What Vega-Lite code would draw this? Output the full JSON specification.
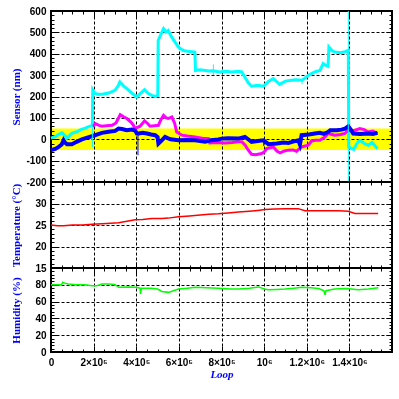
{
  "$schema": "https://vega.github.io/schema/vega-lite/v6.json",
  "background": "white",
  "padding": {"left": 8, "top": 5, "right": 5, "bottom": 5},
  "spacing": 0,
  "bounds": "flush",
  "config": {
    "view": {"stroke": "black", "strokeWidth": 2},
    "axis": {
      "domain": false,
      "tickColor": "black",
      "tickWidth": 1,
      "labelColor": "black",
      "labelFont": "Liberation Sans",
      "labelFontSize": 10,
      "labelFontWeight": "bold",
      "labelFlush": false,
      "labelOverlap": false,
      "labelBound": false,
      "labelPadding": 11,
      "gridColor": "black",
      "gridDash": [3, 2],
      "gridWidth": 1,
      "titleColor": "#0000ff",
      "titleFont": "Liberation Serif",
      "titleFontSize": 11,
      "titleFontWeight": "bold"
    }
  },
  "datasets": {
    "cyan": [
      {"loop": 0, "value": 5}, {"loop": 20000, "value": 12}, {"loop": 40000, "value": 25}, {"loop": 52000, "value": 30},
      {"loop": 65000, "value": 18}, {"loop": 75000, "value": 5}, {"loop": 98000, "value": 28}, {"loop": 120000, "value": 35},
      {"loop": 140000, "value": 45}, {"loop": 160000, "value": 52}, {"loop": 180000, "value": 60}, {"loop": 194000, "value": 65},
      {"loop": 196000, "value": 230}, {"loop": 205000, "value": 215}, {"loop": 223000, "value": 210},
      {"loop": 245000, "value": 212}, {"loop": 270000, "value": 216}, {"loop": 300000, "value": 229}, {"loop": 315000, "value": 250},
      {"loop": 323000, "value": 268}, {"loop": 340000, "value": 250}, {"loop": 356000, "value": 237}, {"loop": 380000, "value": 215},
      {"loop": 403000, "value": 198}, {"loop": 420000, "value": 215}, {"loop": 439000, "value": 232}, {"loop": 455000, "value": 215},
      {"loop": 473000, "value": 205}, {"loop": 490000, "value": 200}, {"loop": 501000, "value": 205}, {"loop": 503000, "value": 462},
      {"loop": 515000, "value": 490}, {"loop": 528000, "value": 517}, {"loop": 540000, "value": 501}, {"loop": 550000, "value": 509},
      {"loop": 565000, "value": 480}, {"loop": 598000, "value": 431}, {"loop": 620000, "value": 415}, {"loop": 650000, "value": 410},
      {"loop": 675000, "value": 408}, {"loop": 678000, "value": 322}, {"loop": 700000, "value": 325}, {"loop": 739000, "value": 319},
      {"loop": 762000, "value": 320}, {"loop": 790000, "value": 315},
      {"loop": 820000, "value": 318}, {"loop": 848000, "value": 315}, {"loop": 880000, "value": 318}, {"loop": 895000, "value": 315},
      {"loop": 909000, "value": 291}, {"loop": 925000, "value": 265}, {"loop": 941000, "value": 248}, {"loop": 970000, "value": 252},
      {"loop": 996000, "value": 248}, {"loop": 1020000, "value": 270}, {"loop": 1043000, "value": 284}, {"loop": 1060000, "value": 268},
      {"loop": 1073000, "value": 257}, {"loop": 1100000, "value": 272}, {"loop": 1129000, "value": 276}, {"loop": 1150000, "value": 278},
      {"loop": 1178000, "value": 276}, {"loop": 1190000, "value": 285}, {"loop": 1207000, "value": 299},
      {"loop": 1238000, "value": 315}, {"loop": 1262000, "value": 322}, {"loop": 1277000, "value": 354}, {"loop": 1290000, "value": 345},
      {"loop": 1300000, "value": 341}, {"loop": 1304000, "value": 431}, {"loop": 1318000, "value": 415}, {"loop": 1332000, "value": 408},
      {"loop": 1360000, "value": 405}, {"loop": 1380000, "value": 410}, {"loop": 1395000, "value": 416}, {"loop": 1397000, "value": -36},
      {"loop": 1420000, "value": -48}, {"loop": 1435000, "value": -20}, {"loop": 1449000, "value": -5}, {"loop": 1470000, "value": -20},
      {"loop": 1488000, "value": -28}, {"loop": 1507000, "value": -15}, {"loop": 1532000, "value": -44}
    ],
    "magenta": [
      {"loop": 196000, "value": 58}, {"loop": 208000, "value": 73}, {"loop": 225000, "value": 65}, {"loop": 239000, "value": 61},
      {"loop": 260000, "value": 63}, {"loop": 286000, "value": 65}, {"loop": 305000, "value": 76}, {"loop": 325000, "value": 115},
      {"loop": 340000, "value": 105}, {"loop": 356000, "value": 97}, {"loop": 375000, "value": 80}, {"loop": 387000, "value": 65},
      {"loop": 393000, "value": 50}, {"loop": 418000, "value": 61}, {"loop": 439000, "value": 86}, {"loop": 452000, "value": 75},
      {"loop": 465000, "value": 61}, {"loop": 485000, "value": 63}, {"loop": 504000, "value": 65}, {"loop": 515000, "value": 90},
      {"loop": 528000, "value": 112}, {"loop": 540000, "value": 100}, {"loop": 550000, "value": 97}, {"loop": 567000, "value": 104},
      {"loop": 580000, "value": 75}, {"loop": 590000, "value": 34}, {"loop": 614000, "value": 19}, {"loop": 640000, "value": 15},
      {"loop": 676000, "value": 11}, {"loop": 710000, "value": 5}, {"loop": 739000, "value": 3}, {"loop": 745000, "value": -17},
      {"loop": 780000, "value": -15}, {"loop": 817000, "value": -17}, {"loop": 850000, "value": -15}, {"loop": 879000, "value": -12},
      {"loop": 895000, "value": -12}, {"loop": 911000, "value": -28}, {"loop": 925000, "value": -50}, {"loop": 941000, "value": -70},
      {"loop": 960000, "value": -72}, {"loop": 988000, "value": -67}, {"loop": 1000000, "value": -60}, {"loop": 1012000, "value": -44},
      {"loop": 1043000, "value": -36}, {"loop": 1060000, "value": -55}, {"loop": 1075000, "value": -64}, {"loop": 1095000, "value": -55},
      {"loop": 1114000, "value": -51}, {"loop": 1135000, "value": -50}, {"loop": 1152000, "value": -56}, {"loop": 1176000, "value": -36},
      {"loop": 1207000, "value": -28}, {"loop": 1223000, "value": -8}, {"loop": 1240000, "value": -5}, {"loop": 1262000, "value": -5},
      {"loop": 1285000, "value": 10}, {"loop": 1300000, "value": 27}, {"loop": 1332000, "value": 19}, {"loop": 1360000, "value": 22},
      {"loop": 1379000, "value": 27}, {"loop": 1395000, "value": 42}, {"loop": 1420000, "value": 40}, {"loop": 1449000, "value": 50},
      {"loop": 1470000, "value": 45}, {"loop": 1488000, "value": 34}, {"loop": 1510000, "value": 38}, {"loop": 1532000, "value": 27}
    ],
    "blue": [
      {"loop": 0, "value": -51}, {"loop": 20000, "value": -45}, {"loop": 36000, "value": -36}, {"loop": 50000, "value": -25},
      {"loop": 59000, "value": -5}, {"loop": 65000, "value": -15}, {"loop": 75000, "value": -23}, {"loop": 98000, "value": -23},
      {"loop": 120000, "value": -12}, {"loop": 145000, "value": -1}, {"loop": 170000, "value": 8}, {"loop": 192000, "value": 14},
      {"loop": 215000, "value": 22}, {"loop": 239000, "value": 30}, {"loop": 270000, "value": 35}, {"loop": 301000, "value": 39},
      {"loop": 317000, "value": 50}, {"loop": 333000, "value": 48}, {"loop": 355000, "value": 42}, {"loop": 379000, "value": 45},
      {"loop": 395000, "value": 40}, {"loop": 403000, "value": 27}, {"loop": 412000, "value": 27},
      {"loop": 430000, "value": 30}, {"loop": 450000, "value": 27}, {"loop": 470000, "value": 22}, {"loop": 489000, "value": 19},
      {"loop": 500000, "value": 10}, {"loop": 504000, "value": -20}, {"loop": 520000, "value": -5}, {"loop": 535000, "value": 11},
      {"loop": 560000, "value": 0}, {"loop": 598000, "value": -5}, {"loop": 640000, "value": -3}, {"loop": 676000, "value": -5},
      {"loop": 700000, "value": -8}, {"loop": 723000, "value": -12}, {"loop": 750000, "value": -5}, {"loop": 785000, "value": -1},
      {"loop": 801000, "value": 3}, {"loop": 830000, "value": 5}, {"loop": 879000, "value": 3}, {"loop": 910000, "value": 11},
      {"loop": 925000, "value": 0}, {"loop": 941000, "value": -12}, {"loop": 970000, "value": -8}, {"loop": 996000, "value": -5},
      {"loop": 1000000, "value": -8}, {"loop": 1020000, "value": -23}, {"loop": 1060000, "value": -20},
      {"loop": 1090000, "value": -15}, {"loop": 1114000, "value": -17}, {"loop": 1140000, "value": -10}, {"loop": 1160000, "value": -5},
      {"loop": 1168000, "value": -25}, {"loop": 1176000, "value": 19}, {"loop": 1210000, "value": 22}, {"loop": 1238000, "value": 27},
      {"loop": 1262000, "value": 30}, {"loop": 1280000, "value": 25}, {"loop": 1300000, "value": 34}, {"loop": 1310000, "value": 42},
      {"loop": 1340000, "value": 42}, {"loop": 1363000, "value": 45}, {"loop": 1380000, "value": 50}, {"loop": 1395000, "value": 61},
      {"loop": 1410000, "value": 40}, {"loop": 1418000, "value": 27}, {"loop": 1450000, "value": 25}, {"loop": 1488000, "value": 27},
      {"loop": 1510000, "value": 25}, {"loop": 1532000, "value": 30}
    ],
    "spikes": [
      {"series": "cyan", "loop": 194000, "from": 65, "to": -37},
      {"series": "cyan", "loop": 762000, "from": 300, "to": 350},
      {"series": "cyan", "loop": 1178000, "from": 276, "to": 258},
      {"series": "blue", "loop": 408000, "from": 27, "to": -75},
      {"series": "blue", "loop": 998000, "from": -5, "to": -32}
    ],
    "band": [{"lo": -50, "hi": 50}],
    "marker": [{"loop": 1395000}],
    "temperature": [
      {"loop": 0, "temp": 25.0}, {"loop": 30000, "temp": 24.8}, {"loop": 60000, "temp": 24.8}, {"loop": 100000, "temp": 25.0},
      {"loop": 150000, "temp": 25.0}, {"loop": 192000, "temp": 25.2}, {"loop": 240000, "temp": 25.3}, {"loop": 280000, "temp": 25.4},
      {"loop": 317000, "temp": 25.5}, {"loop": 350000, "temp": 25.8}, {"loop": 395000, "temp": 26.2}, {"loop": 430000, "temp": 26.3},
      {"loop": 473000, "temp": 26.5}, {"loop": 520000, "temp": 26.5}, {"loop": 550000, "temp": 26.6}, {"loop": 598000, "temp": 26.9},
      {"loop": 650000, "temp": 27.1}, {"loop": 700000, "temp": 27.3}, {"loop": 740000, "temp": 27.5}, {"loop": 785000, "temp": 27.6},
      {"loop": 830000, "temp": 27.8}, {"loop": 880000, "temp": 28.0}, {"loop": 930000, "temp": 28.2}, {"loop": 970000, "temp": 28.4},
      {"loop": 1004000, "temp": 28.6}, {"loop": 1050000, "temp": 28.7}, {"loop": 1100000, "temp": 28.8}, {"loop": 1160000, "temp": 28.8},
      {"loop": 1191000, "temp": 28.3}, {"loop": 1250000, "temp": 28.3}, {"loop": 1300000, "temp": 28.3}, {"loop": 1350000, "temp": 28.3},
      {"loop": 1395000, "temp": 28.2}, {"loop": 1426000, "temp": 27.7}, {"loop": 1480000, "temp": 27.7}, {"loop": 1535000, "temp": 27.7}
    ],
    "humidity": [
      {"loop": 0, "hum": 80}, {"loop": 30000, "hum": 80}, {"loop": 50000, "hum": 80}, {"loop": 55000, "hum": 83},
      {"loop": 65000, "hum": 82}, {"loop": 80000, "hum": 81}, {"loop": 120000, "hum": 80}, {"loop": 160000, "hum": 80},
      {"loop": 192000, "hum": 79}, {"loop": 215000, "hum": 79}, {"loop": 239000, "hum": 81}, {"loop": 270000, "hum": 81},
      {"loop": 300000, "hum": 80.5}, {"loop": 317000, "hum": 77}, {"loop": 360000, "hum": 77.5}, {"loop": 400000, "hum": 77},
      {"loop": 418000, "hum": 76}, {"loop": 420000, "hum": 69}, {"loop": 424000, "hum": 76}, {"loop": 470000, "hum": 76},
      {"loop": 500000, "hum": 75}, {"loop": 520000, "hum": 72}, {"loop": 552000, "hum": 71}, {"loop": 575000, "hum": 73},
      {"loop": 598000, "hum": 75}, {"loop": 640000, "hum": 76}, {"loop": 676000, "hum": 77}, {"loop": 730000, "hum": 76.5},
      {"loop": 786000, "hum": 76}, {"loop": 840000, "hum": 75}, {"loop": 880000, "hum": 75}, {"loop": 930000, "hum": 76},
      {"loop": 974000, "hum": 77.5}, {"loop": 1000000, "hum": 75}, {"loop": 1020000, "hum": 74}, {"loop": 1060000, "hum": 74.5},
      {"loop": 1098000, "hum": 75}, {"loop": 1140000, "hum": 76}, {"loop": 1177000, "hum": 77}, {"loop": 1220000, "hum": 76.5},
      {"loop": 1255000, "hum": 75.5}, {"loop": 1280000, "hum": 73}, {"loop": 1286000, "hum": 68}, {"loop": 1290000, "hum": 73},
      {"loop": 1330000, "hum": 75}, {"loop": 1380000, "hum": 75.5}, {"loop": 1410000, "hum": 75}, {"loop": 1442000, "hum": 74},
      {"loop": 1490000, "hum": 75}, {"loop": 1536000, "hum": 76.5}
    ]
  },
  "vconcat": [
    {
      "width": 341,
      "height": 171,
      "resolve": {"axis": {"x": "independent", "y": "independent"}},
      "layer": [
        {
          "data": {"name": "band"},
          "mark": {"type": "rect", "color": "#ffff00", "blend": "multiply"},
          "encoding": {
            "y": {"field": "lo", "type": "quantitative",
              "scale": {"domain": [-200, 600], "nice": false, "zero": false},
              "axis": {
                "orient": "left",
                "values": [-200,-180,-160,-140,-120,-100,-80,-60,-40,-20,0,20,40,60,80,100,120,140,160,180,200,220,240,260,280,300,320,340,360,380,400,420,440,460,480,500,520,540,560,580,600],
                "tickSize": {"condition": {"test": "datum.value % 100 === 0", "value": -6}, "value": -3},
                "labelExpr": "datum.value % 100 === 0 ? '' + datum.value : ''",
                "grid": true,
                "gridOpacity": {"condition": {"test": "datum.value % 100 === 0", "value": 1}, "value": 0},
                "title": "Sensor (nm)",
                "titleX": -35,
                "titleBaseline": "middle"
              }
            },
            "y2": {"field": "hi"}
          }
        },
        {
          "data": {"name": "cyan"},
          "mark": {"type": "line", "color": "#00ffff", "strokeWidth": 3},
          "encoding": {
            "x": {"field": "loop", "type": "quantitative",
              "scale": {"domain": [0, 1600000], "nice": false, "zero": false},
              "axis": {
                "orient": "bottom",
                "values": [0,50000,100000,150000,200000,250000,300000,350000,400000,450000,500000,550000,600000,650000,700000,750000,800000,850000,900000,950000,1000000,1050000,1100000,1150000,1200000,1250000,1300000,1350000,1400000,1450000,1500000,1550000,1600000],
                "tickSize": {"condition": {"test": "datum.value % 200000 === 0", "value": -6}, "value": -3},
                "labels": false,
                "grid": true,
                "gridOpacity": {"condition": {"test": "datum.value % 200000 === 0", "value": 1}, "value": 0},
                "title": null
              }
            },
            "y": {"field": "value", "type": "quantitative",
              "scale": {"domain": [-200, 600], "nice": false, "zero": false},
              "axis": {
                "orient": "right",
                "values": [-200,-180,-160,-140,-120,-100,-80,-60,-40,-20,0,20,40,60,80,100,120,140,160,180,200,220,240,260,280,300,320,340,360,380,400,420,440,460,480,500,520,540,560,580,600],
                "tickSize": {"condition": {"test": "datum.value % 100 === 0", "value": -6}, "value": -3},
                "labels": false,
                "grid": false,
                "title": null
              }
            }
          }
        },
        {
          "data": {"name": "magenta"},
          "mark": {"type": "line", "color": "#ff00ff", "strokeWidth": 3},
          "encoding": {
            "x": {"field": "loop", "type": "quantitative", "axis": null},
            "y": {"field": "value", "type": "quantitative", "axis": null}
          }
        },
        {
          "data": {"name": "blue"},
          "mark": {"type": "line", "color": "#0000ff", "strokeWidth": 4},
          "encoding": {
            "x": {"field": "loop", "type": "quantitative", "axis": null},
            "y": {"field": "value", "type": "quantitative", "axis": null}
          }
        },
        {
          "data": {"name": "spikes"},
          "mark": {"type": "rule", "strokeWidth": 1},
          "encoding": {
            "x": {"field": "loop", "type": "quantitative", "axis": null},
            "y": {"field": "from", "type": "quantitative", "axis": null},
            "y2": {"field": "to"},
            "color": {"field": "series", "type": "nominal",
              "scale": {"domain": ["cyan", "blue"], "range": ["#00ffff", "#0000ff"]},
              "legend": null}
          }
        },
        {
          "data": {"name": "marker"},
          "mark": {"type": "rule", "color": "#00ffff", "strokeWidth": 1},
          "encoding": {
            "x": {"field": "loop", "type": "quantitative",
              "axis": {
                "orient": "top",
                "values": [0,50000,100000,150000,200000,250000,300000,350000,400000,450000,500000,550000,600000,650000,700000,750000,800000,850000,900000,950000,1000000,1050000,1100000,1150000,1200000,1250000,1300000,1350000,1400000,1450000,1500000,1550000,1600000],
                "tickSize": {"condition": {"test": "datum.value % 200000 === 0", "value": -6}, "value": -3},
                "labels": false,
                "grid": false,
                "title": null
              }
            }
          }
        }
      ]
    },
    {
      "width": 341,
      "height": 86,
      "resolve": {"axis": {"x": "independent", "y": "independent"}},
      "layer": [
        {
          "data": {"name": "temperature"},
          "mark": {"type": "line", "color": "#ff0000", "strokeWidth": 1.5},
          "encoding": {
            "x": {"field": "loop", "type": "quantitative",
              "scale": {"domain": [0, 1600000], "nice": false, "zero": false},
              "axis": {
                "orient": "bottom",
                "values": [0,50000,100000,150000,200000,250000,300000,350000,400000,450000,500000,550000,600000,650000,700000,750000,800000,850000,900000,950000,1000000,1050000,1100000,1150000,1200000,1250000,1300000,1350000,1400000,1450000,1500000,1550000,1600000],
                "tickSize": {"condition": {"test": "datum.value % 200000 === 0", "value": -6}, "value": -3},
                "labels": false,
                "grid": true,
                "gridOpacity": {"condition": {"test": "datum.value % 200000 === 0", "value": 1}, "value": 0},
                "title": null
              }
            },
            "y": {"field": "temp", "type": "quantitative",
              "scale": {"domain": [15, 35], "nice": false, "zero": false},
              "axis": {
                "orient": "left",
                "values": [15,16,17,18,19,20,21,22,23,24,25,26,27,28,29,30,31,32,33,34,35],
                "tickSize": {"condition": {"test": "datum.value % 5 === 0", "value": -6}, "value": -3},
                "labelExpr": "datum.value % 5 === 0 && datum.value !== 35 ? '' + datum.value : ''",
                "grid": true,
                "gridOpacity": {"condition": {"test": "datum.value % 5 === 0", "value": 1}, "value": 0},
                "title": "Temperature (°C)",
                "titleX": -35,
                "titleBaseline": "middle"
              }
            }
          }
        },
        {
          "data": {"name": "temperature"},
          "mark": {"type": "line", "opacity": 0},
          "encoding": {
            "x": {"field": "loop", "type": "quantitative",
              "axis": {
                "orient": "top",
                "values": [0,50000,100000,150000,200000,250000,300000,350000,400000,450000,500000,550000,600000,650000,700000,750000,800000,850000,900000,950000,1000000,1050000,1100000,1150000,1200000,1250000,1300000,1350000,1400000,1450000,1500000,1550000,1600000],
                "tickSize": {"condition": {"test": "datum.value % 200000 === 0", "value": -6}, "value": -3},
                "labels": false, "grid": false, "title": null
              }
            },
            "y": {"field": "temp", "type": "quantitative",
              "axis": {
                "orient": "right",
                "values": [15,16,17,18,19,20,21,22,23,24,25,26,27,28,29,30,31,32,33,34,35],
                "tickSize": {"condition": {"test": "datum.value % 5 === 0", "value": -6}, "value": -3},
                "labels": false, "grid": false, "title": null
              }
            }
          }
        }
      ]
    },
    {
      "width": 341,
      "height": 84,
      "resolve": {"axis": {"x": "independent", "y": "independent"}},
      "layer": [
        {
          "data": {"name": "humidity"},
          "mark": {"type": "line", "color": "#00ff00", "strokeWidth": 1.5},
          "encoding": {
            "x": {"field": "loop", "type": "quantitative",
              "scale": {"domain": [0, 1600000], "nice": false, "zero": false},
              "axis": {
                "orient": "bottom",
                "values": [0,50000,100000,150000,200000,250000,300000,350000,400000,450000,500000,550000,600000,650000,700000,750000,800000,850000,900000,950000,1000000,1050000,1100000,1150000,1200000,1250000,1300000,1350000,1400000,1450000,1500000,1550000,1600000],
                "tickSize": {"condition": {"test": "datum.value % 200000 === 0", "value": -6}, "value": -3},
                "labelExpr": "datum.value % 200000 !== 0 || datum.value === 1600000 ? '' : datum.value === 0 ? '0' : datum.value === 1000000 ? '10⁶' : datum.value < 1000000 ? (datum.value / 100000) + '×10⁵' : format(datum.value / 1000000, '.1f') + '×10⁶'",
                "grid": true,
                "gridOpacity": {"condition": {"test": "datum.value % 200000 === 0", "value": 1}, "value": 0},
                "title": "Loop",
                "titleFontStyle": "italic",
                "titleY": 22,
                "titleBaseline": "middle"
              }
            },
            "y": {"field": "hum", "type": "quantitative",
              "scale": {"domain": [0, 100], "nice": false, "zero": false},
              "axis": {
                "orient": "left",
                "values": [0,4,8,12,16,20,24,28,32,36,40,44,48,52,56,60,64,68,72,76,80,84,88,92,96,100],
                "tickSize": {"condition": {"test": "datum.value % 20 === 0", "value": -6}, "value": -3},
                "labelExpr": "datum.value % 20 === 0 && datum.value !== 100 ? '' + datum.value : ''",
                "grid": true,
                "gridOpacity": {"condition": {"test": "datum.value % 20 === 0", "value": 1}, "value": 0},
                "title": "Humidity (%)",
                "titleX": -35,
                "titleBaseline": "middle"
              }
            }
          }
        },
        {
          "data": {"name": "humidity"},
          "mark": {"type": "line", "opacity": 0},
          "encoding": {
            "x": {"field": "loop", "type": "quantitative",
              "axis": {
                "orient": "top",
                "values": [0,50000,100000,150000,200000,250000,300000,350000,400000,450000,500000,550000,600000,650000,700000,750000,800000,850000,900000,950000,1000000,1050000,1100000,1150000,1200000,1250000,1300000,1350000,1400000,1450000,1500000,1550000,1600000],
                "tickSize": {"condition": {"test": "datum.value % 200000 === 0", "value": -6}, "value": -3},
                "labels": false, "grid": false, "title": null
              }
            },
            "y": {"field": "hum", "type": "quantitative",
              "axis": {
                "orient": "right",
                "values": [0,4,8,12,16,20,24,28,32,36,40,44,48,52,56,60,64,68,72,76,80,84,88,92,96,100],
                "tickSize": {"condition": {"test": "datum.value % 20 === 0", "value": -6}, "value": -3},
                "labels": false, "grid": false, "title": null
              }
            }
          }
        }
      ]
    }
  ]
}
